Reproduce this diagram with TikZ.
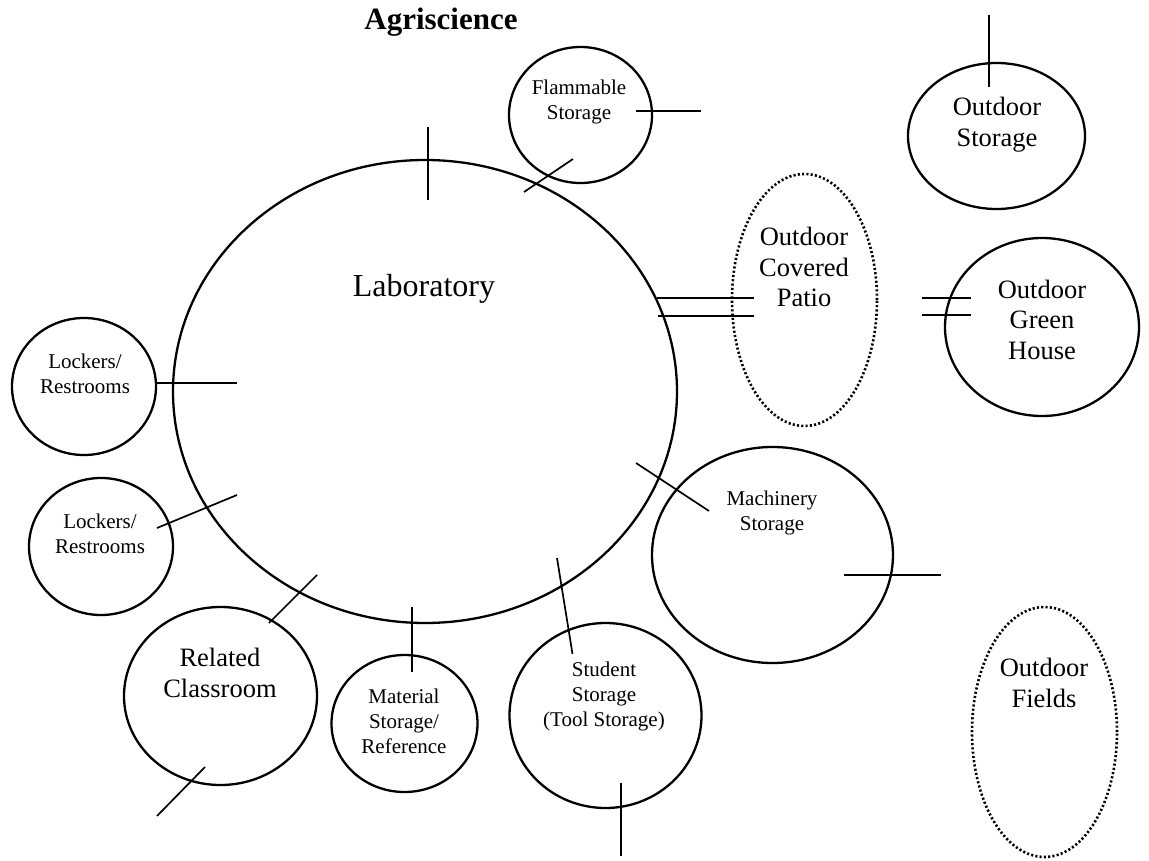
\documentclass[tikz,border=0pt]{standalone}
\usepackage{fontspec}
\setmainfont{Liberation Serif}
\usetikzlibrary{shapes.geometric}
\begin{document}
\begin{tikzpicture}[x=1pt,y=-1pt,
  room/.style={draw, ellipse, line width=2.3pt, inner sep=0pt},
  zone/.style={draw, ellipse, line width=2.6pt, dash pattern=on 2.1pt off 2.2pt, inner sep=0pt},
  wall/.style={line width=1.7pt},
  big/.style={font=\fontsize{32}{37}\selectfont, inner sep=0pt},
  mid/.style={font=\fontsize{26.5}{30.5}\selectfont, align=center, inner sep=0pt},
  small/.style={font=\fontsize{21}{25}\selectfont, align=center, inner sep=0pt}]
\useasboundingbox (0,0) rectangle (1149,861);
% title
\node[font=\fontsize{31}{36}\selectfont\bfseries, anchor=base, inner sep=0pt] (title) at (441,30) {Agriscience};
% rooms
\node[room, minimum width=504pt, minimum height=463pt] (lab) at (425,391.5) {};
\node[room, minimum width=143pt, minimum height=136pt] (flam) at (580.5,115) {};
\node[room, minimum width=144pt, minimum height=137pt] (lock1) at (84,386.5) {};
\node[room, minimum width=144pt, minimum height=137pt] (lock2) at (101,546.5) {};
\node[room, minimum width=177pt, minimum height=146pt] (ostor) at (996.5,136) {};
\node[zone, minimum width=145pt, minimum height=252pt] (patio) at (804.5,300) {};
\node[room, minimum width=194pt, minimum height=178pt] (green) at (1042,327) {};
\node[room, minimum width=193pt, minimum height=178pt] (relc) at (220.5,696) {};
\node[room, minimum width=146pt, minimum height=137pt] (mats) at (404.5,723.5) {};
\node[room, minimum width=192pt, minimum height=185pt] (stus) at (605.5,715.5) {};
\node[room, minimum width=241pt, minimum height=216pt] (mach) at (772.5,555) {};
\node[zone, minimum width=145pt, minimum height=250pt] (fields) at (1044.5,732) {};
% labels
\node[big, anchor=base] (tlab) at (424,297) {Laboratory};
\node[small] (tflam) at (579,101.5) {Flammable\\Storage};
\node[small] (tlock1) at (85,373.5) {Lockers/\\Restrooms};
\node[small] (tlock2) at (100,533.5) {Lockers/\\Restrooms};
\node[mid] (tostor) at (997,124.5) {Outdoor\\Storage};
\node[mid] (tpatio) at (804,267) {Outdoor\\Covered\\Patio};
\node[mid] (tgreen) at (1042,319.5) {Outdoor\\Green\\House};
\node[mid] (trelc) at (220,673) {Related\\Classroom};
\node[small] (tmats) at (404,721) {Material\\Storage/\\Reference};
\node[small] (tstus) at (604,696.5) {Student\\Storage\\(Tool Storage)};
\node[small] (tmach) at (772,512.5) {Machinery\\Storage};
\node[mid] (tfields) at (1044,683) {Outdoor\\Fields};
% door marks
\draw[wall] (428,127) -- (428,200);
\draw[wall] (524,192) -- (573,159);
\draw[wall] (636,111) -- (701,111);
\draw[wall] (989,15) -- (989,87);
\draw[wall] (657,298) -- (754,298);
\draw[wall] (658,316) -- (754,316);
\draw[wall] (922,298) -- (971,298);
\draw[wall] (922,315) -- (971,315);
\draw[wall] (156,383) -- (237,383);
\draw[wall] (157,528) -- (237,495);
\draw[wall] (269,623) -- (317,575);
\draw[wall] (157,816) -- (205,767);
\draw[wall] (412,607) -- (412,672);
\draw[wall] (557,558) -- (572.5,654);
\draw[wall] (621,783) -- (621,856);
\draw[wall] (636,463) -- (709,511);
\draw[wall] (844,575) -- (941,575);
\end{tikzpicture}
\end{document}
